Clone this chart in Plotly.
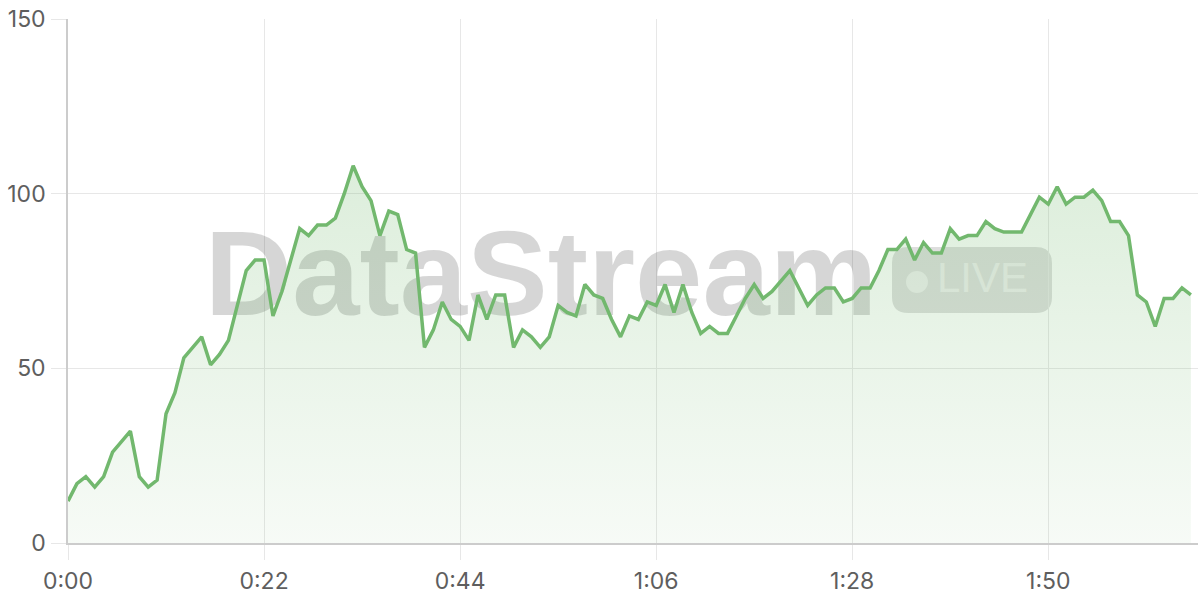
import plotly.graph_objects as go

# ---- data (one sample per second) ----
values = [12, 17, 19, 16, 19, 26, 29, 32, 19, 16, 18, 37, 43, 53, 56, 59, 51, 54, 58, 68,
          78, 81, 81, 65, 72, 81, 90, 88, 91, 91, 93, 100, 108, 102, 98, 88, 95, 94, 84, 83,
          56, 61, 69, 64, 62, 58, 71, 64, 71, 71, 56, 61, 59, 56, 59, 68, 66, 65, 74, 71,
          70, 64, 59, 65, 64, 69, 68, 74, 66, 74, 66, 60, 62, 60, 60, 65, 70, 74, 70, 72,
          75, 78, 73, 68, 71, 73, 73, 69, 70, 73, 73, 78, 84, 84, 87, 81, 86, 83, 83, 90,
          87, 88, 88, 92, 90, 89, 89, 89, 94, 99, 97, 102, 97, 99, 99, 101, 98, 92, 92, 88,
          71, 69, 62, 70, 70, 73, 71]
seconds = list(range(len(values)))

tick_seconds = [0, 22, 44, 66, 88, 110]
tick_labels = ["0:00", "0:22", "0:44", "1:06", "1:28", "1:50"]
y_ticks = [0, 50, 100, 150]

LINE = "#72b86e"
GRID = "#e7e7e7"
AXIS = "#cccccc"
TICKFONT = dict(family="Inter, Liberation Sans, sans-serif", size=23, color="#5e5e5e")

fig = go.Figure()

# watermark (on hidden base axes, so it sits beneath the data traces)
fig.add_trace(go.Scatter(
    x=[0.4186], y=[0.4924], mode="text", text=["DataStream"],
    textposition="middle center",
    textfont=dict(family="Liberation Sans, Arial, sans-serif", size=121,
                  color="rgba(0,0,0,0.16)", weight="bold"),
    hoverinfo="skip", showlegend=False, xaxis="x", yaxis="y"))
fig.add_trace(go.Scatter(
    x=[0.8093], y=[0.499], mode="text", text=["LIVE"],
    textposition="middle center",
    textfont=dict(family="Liberation Sans, Arial, sans-serif", size=42,
                  color="rgba(255,255,255,0.5)"),
    hoverinfo="skip", showlegend=False, xaxis="x", yaxis="y"))

# data
fig.add_trace(go.Scatter(
    x=seconds, y=values, mode="lines",
    line=dict(color=LINE, width=3.5),
    fill="tozeroy",
    fillgradient=dict(type="vertical", start=0, stop=110,
                      colorscale=[[0, "rgba(115,185,110,0.06)"],
                                  [1, "rgba(115,185,110,0.25)"]]),
    hoverinfo="skip", showlegend=False, xaxis="x2", yaxis="y2"))

# LIVE badge
x0, x1, y0, y1 = 0.7292, 0.8708, 0.4389, 0.5649
rx, ry = 0.0142, 0.0305
path = (f"M {x0+rx},{y0} L {x1-rx},{y0} Q {x1},{y0} {x1},{y0+ry} "
        f"L {x1},{y1-ry} Q {x1},{y1} {x1-rx},{y1} L {x0+rx},{y1} "
        f"Q {x0},{y1} {x0},{y1-ry} L {x0},{y0+ry} Q {x0},{y0} {x0+rx},{y0} Z")
shapes = [
    dict(type="path", path=path, xref="paper", yref="paper",
         fillcolor="rgba(0,0,0,0.13)", line=dict(width=0), layer="between"),
    dict(type="circle", xref="paper", yref="paper", xsizemode="pixel", ysizemode="pixel",
         xanchor=0.7513, yanchor=0.4981, x0=-11, x1=11, y0=-11, y1=11,
         fillcolor="rgba(255,255,255,0.5)", line=dict(width=0), layer="between"),
]

fig.update_layout(
    width=1200, height=600,
    margin=dict(l=68, r=2, t=19, b=57, autoexpand=False),
    paper_bgcolor="white", plot_bgcolor="white",
    shapes=shapes,
    xaxis=dict(range=[0, 1], visible=False, fixedrange=True, automargin=False),
    yaxis=dict(range=[0, 1], visible=False, fixedrange=True, automargin=False),
    xaxis2=dict(overlaying="x", anchor="y2", side="bottom",
                range=[0, 126.8], tickvals=tick_seconds, ticktext=tick_labels,
                showgrid=True, gridcolor=GRID, gridwidth=1,
                showline=True, linecolor=AXIS, linewidth=1.5,
                ticks="outside", ticklen=15, tickcolor=GRID, tickwidth=1,
                zeroline=False, tickfont=TICKFONT, ticklabelstandoff=2,
                ticklabeloverflow="allow", automargin=False),
    yaxis2=dict(overlaying="y", anchor="x2", side="left",
                range=[0, 150], tickvals=y_ticks,
                showgrid=True, gridcolor=GRID, gridwidth=1,
                showline=True, linecolor=AXIS, linewidth=1.5,
                ticks="outside", ticklen=15, tickcolor=GRID, tickwidth=1,
                zeroline=False, tickfont=TICKFONT, ticklabelstandoff=1,
                ticklabeloverflow="allow", automargin=False),
)

fig.write_html("out.html", config={"displayModeBar": False},
               post_script="document.body.style.margin='0px';")
